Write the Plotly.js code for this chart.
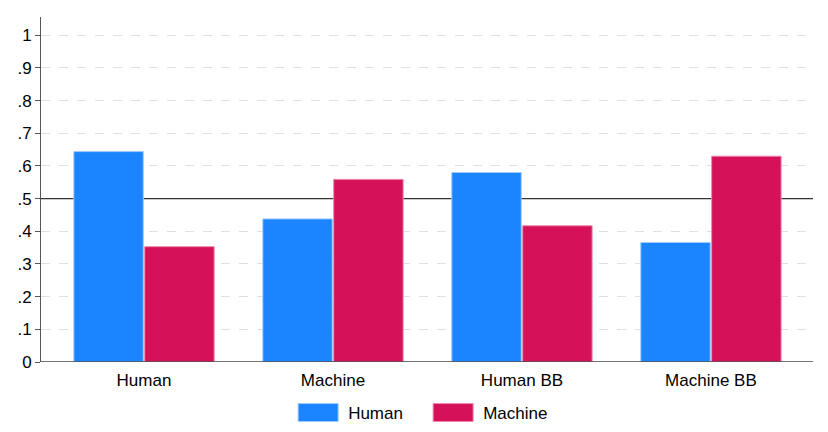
<!DOCTYPE html>
<html>
<head>
<meta charset="utf-8">
<script src="https://cdn.plot.ly/plotly-3.0.1.min.js"></script>
<style>html,body{margin:0;padding:0;background:#fff;}#chart{width:828px;height:432px;}</style>
</head>
<body>
<div id="chart"></div>
<script>
const categories = ["Human", "Machine", "Human BB", "Machine BB"];
const humanValues = [0.644, 0.438, 0.580, 0.366];
const machineValues = [0.353, 0.559, 0.417, 0.630];
const yTickVals = [0, 0.1, 0.2, 0.3, 0.4, 0.5, 0.6, 0.7, 0.8, 0.9, 1];
const yTickText = ["0", ".1", ".2", ".3", ".4", ".5", ".6", ".7", ".8", ".9", "1"];
const referenceLevel = 0.5;
const gridVals = yTickVals.filter(v => v !== referenceLevel && v !== 0);

const font = {family: "Liberation Sans, Arial, Helvetica, sans-serif", color: "#000", size: 17};

const traces = [
  {type: "bar", name: "Human", x: categories, y: humanValues,
   marker: {color: "#1A85FF", line: {color: "#9fcbff", width: 1}}, hoverinfo: "skip"},
  {type: "bar", name: "Machine", x: categories, y: machineValues,
   marker: {color: "#D41159", line: {color: "#ee8aad", width: 1}}, hoverinfo: "skip"}
];

const layout = {
  width: 828, height: 432,
  margin: {l: 41, r: 15, t: 17, b: 70, autoexpand: false},
  paper_bgcolor: "#fff", plot_bgcolor: "#fff",
  font: font,
  barmode: "group", bargap: 0.25, bargroupgap: 0.02,
  showlegend: true,
  legend: {orientation: "h", x: 0.495, xanchor: "center", yref: "container", y: 0.044, yanchor: "middle",
           font: {size: 17, family: font.family}, itemwidth: 50,
           entrywidth: 70, entrywidthmode: "pixels"},
  xaxis: {range: [-0.545, 3.54], showgrid: false, zeroline: false,
          showline: false, ticks: "outside", ticklen: 3, tickcolor: "rgba(0,0,0,0)",
          tickfont: font, fixedrange: true},
  yaxis: {range: [0, 1.056], tickvals: yTickVals, ticktext: yTickText,
          showgrid: false, zeroline: false, showline: true, linecolor: "#555", linewidth: 1,
          ticks: "outside", ticklen: 5, tickcolor: "#555", tickfont: font, fixedrange: true,
          minor: {tickmode: "array", tickvals: gridVals, ticks: "", showgrid: true,
                  gridcolor: "#e0e0e0", griddash: "dash", gridwidth: 1}},
  shapes: [
    {type: "line", xref: "paper", x0: 0, x1: 1, yref: "y", y0: 0, y1: 0,
     line: {color: "#444", width: 1.5}},
    {type: "line", xref: "paper", x0: 0, x1: 1, yref: "y", y0: referenceLevel, y1: referenceLevel,
     line: {color: "#333", width: 1.2}, layer: "between"}
  ]
};

Plotly.newPlot("chart", traces, layout, {displayModeBar: false, staticPlot: true}).then(function (gd) {
  gd.querySelectorAll(".legend .legendpoints path").forEach(function (p) {
    p.setAttribute("d", "M20,9H-20V-9H20Z");
  });
});
</script>
</body>
</html>
